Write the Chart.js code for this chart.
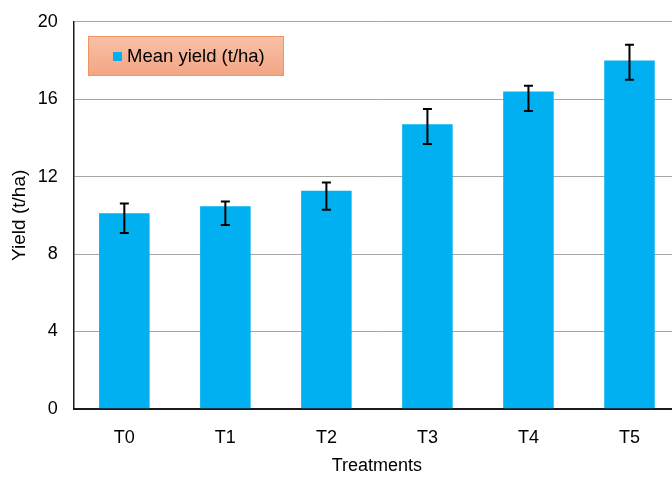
<!DOCTYPE html>
<html>
<head>
<meta charset="utf-8">
<script src="https://cdn.jsdelivr.net/npm/chart.js@4"></script>
<style>
  html, body { margin: 0; padding: 0; background: #fff; overflow: hidden; }
  #wrap { width: 690px; height: 482px; margin-top: -5px; position: relative; }
</style>
</head>
<body>
<div id="wrap"><canvas id="graph"></canvas></div>
<script>
'use strict';

let categories = ['T0', 'T1', 'T2', 'T3', 'T4', 'T5'];
let meanYield = [10.1, 10.47, 11.27, 14.7, 16.4, 18.0];
let errHigh = [10.61, 10.71, 11.69, 15.49, 16.7, 18.81];
let errLow = [9.08, 9.5, 10.29, 13.69, 15.39, 17.01];
let yMin = 0;
let yMax = 20;
let yStep = 4;

let fontName = '"Liberation Sans", Arial, sans-serif';

// error bars, drawn from the y scale
let errorBarPlugin = {
  id: 'errorBars',
  afterDatasetsDraw(chart) {
    let ctx = chart.ctx;
    let meta = chart.getDatasetMeta(0);
    let y = chart.scales.y;
    ctx.save();
    ctx.strokeStyle = '#000';
    ctx.lineWidth = 2;
    for (let i = 0; i < meta.data.length; i++) {
      let x = meta.data[i].x;
      let top = y.getPixelForValue(errHigh[i]);
      let bot = y.getPixelForValue(errLow[i]);
      ctx.beginPath();
      ctx.moveTo(x, top);
      ctx.lineTo(x, bot);
      ctx.moveTo(x - 4.5, top);
      ctx.lineTo(x + 4.5, top);
      ctx.moveTo(x - 4.5, bot);
      ctx.lineTo(x + 4.5, bot);
      ctx.stroke();
    }
    ctx.restore();
  }
};

// boxed legend in the upper left like the excel one
let legendBoxPlugin = {
  id: 'legendBox',
  afterDraw(chart) {
    let ctx = chart.ctx;
    let ds = chart.data.datasets[0];
    // canvas sits 5px above the page top
    let bx = 88, by = 41, bw = 196, bh = 40;
    ctx.save();
    let grad = ctx.createLinearGradient(0, by, 0, by + bh);
    grad.addColorStop(0, '#f8c1a8');
    grad.addColorStop(1, '#f3a584');
    ctx.fillStyle = grad;
    ctx.fillRect(bx, by, bw, bh);
    ctx.strokeStyle = '#f09560';
    ctx.lineWidth = 1;
    ctx.strokeRect(bx + 0.5, by + 0.5, bw - 1, bh - 1);
    ctx.fillStyle = ds.backgroundColor;
    ctx.fillRect(bx + 25, by + 16, 9, 9);
    ctx.fillStyle = '#000';
    ctx.font = '18.5px ' + fontName;
    ctx.textBaseline = 'middle';
    ctx.fillText(ds.label, bx + 39, by + 21);
    ctx.restore();
  }
};

let graphData = {
  type: 'bar',
  data: {
    labels: categories,
    datasets: [{
      label: 'Mean yield (t/ha)',
      data: meanYield,
      backgroundColor: '#00b0f0',
      borderWidth: 0,
      barPercentage: 0.5,
      categoryPercentage: 1
    }]
  },
  options: {
    responsive: true,
    maintainAspectRatio: false,
    animation: false,
    layout: {
      autoPadding: false,
      padding: { top: 17, right: 10, left: 0, bottom: 0 }
    },
    plugins: {
      legend: { display: false },
      tooltip: { enabled: false }
    },
    scales: {
      x: {
        grid: { display: false, drawTicks: false },
        border: { display: true, color: '#1a1a1a', width: 2 },
        ticks: {
          color: '#000',
          padding: 18,
          font: { family: fontName, size: 18 }
        },
        title: {
          display: true,
          text: 'Treatments',
          color: '#000',
          padding: { top: -11, bottom: 0 },
          font: { family: fontName, size: 18 }
        }
      },
      y: {
        min: yMin,
        max: yMax,
        grid: { color: '#a6a6a6', lineWidth: 1, drawTicks: false },
        border: { display: true, color: '#1a1a1a', width: 1.5 },
        ticks: {
          stepSize: yStep,
          color: '#000',
          padding: 16,
          font: { family: fontName, size: 18 }
        },
        title: {
          display: true,
          text: 'Yield (t/ha)',
          color: '#000',
          padding: { top: 8, bottom: -9 },
          font: { family: fontName, size: 19 }
        }
      }
    }
  },
  plugins: [errorBarPlugin, legendBoxPlugin]
};

let graph = new Chart(document.getElementById('graph').getContext('2d'), graphData);//eslint-disable-line
</script>
</body>
</html>
